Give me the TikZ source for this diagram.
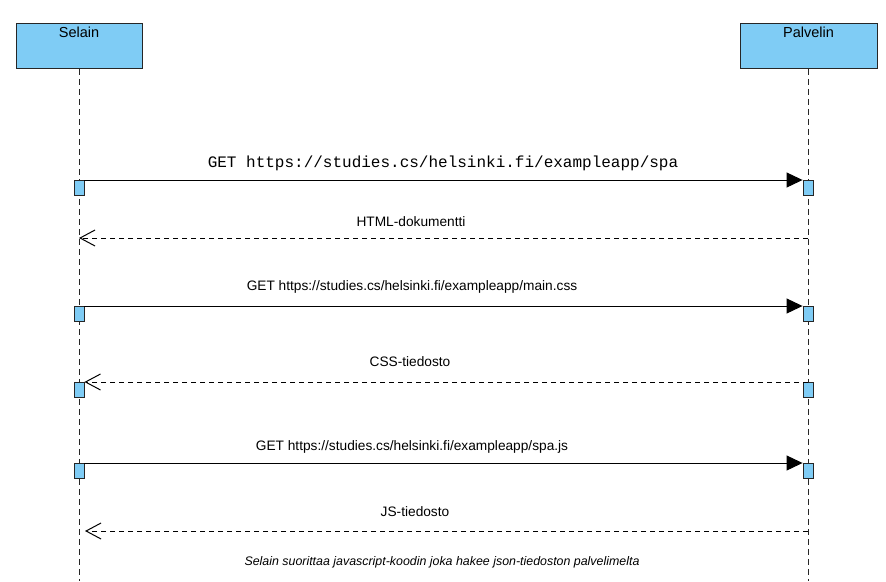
\documentclass[tikz,border=0pt]{standalone}
\usepackage{fontspec}
\setmainfont{Liberation Sans}
\newfontfamily\urlfont{Liberation Mono}
\usetikzlibrary{arrows.meta}
\definecolor{actorblue}{RGB}{127,204,245}
\tikzstyle{actor} = [draw=black!85, fill=actorblue, minimum width=126pt, minimum height=45pt, inner sep=0pt, anchor=north, line width=0.9pt]
\tikzstyle{act} = [draw=black!85, fill=actorblue, minimum width=10pt, minimum height=15pt, inner sep=0pt, anchor=north, line width=0.9pt]
\tikzstyle{lifeline} = [draw=black!85, line width=1pt, dash pattern=on 6pt off 4pt]
\tikzstyle{call} = [draw, line width=1pt, -{Triangle[length=16pt, width=15pt]}]
\tikzstyle{reply} = [draw, line width=1pt, dash pattern=on 5pt off 4pt, -{Straight Barb[length=15pt, width=16pt, line width=1pt]}]
\tikzstyle{msglabel} = [font=\fontsize{13.7}{15}\selectfont, inner sep=0pt]

\begin{document}
\begin{tikzpicture}[x=1pt, y=-1pt]
        \useasboundingbox (0,0) rectangle (886,581);

        % osapuolet
        \node[actor, label={[anchor=north, inner sep=4pt, font=\fontsize{14.5}{16}\selectfont]north:Selain}] (selain) at (79,23) {};
        \node[actor, minimum width=137pt, label={[anchor=north, inner sep=4pt, font=\fontsize{14.5}{16}\selectfont]north:Palvelin}] (palvelin) at (808.5,23) {};
        \coordinate (selainend) at (79,581);
        \coordinate (palvelinend) at (808,581);
        \draw[lifeline] (selain.south) -- (selainend);
        \draw[lifeline] (palvelin.south -| palvelinend) -- (palvelinend);

        % aktivaatiot
        \node[act] (s1) at (79,180) {};
        \node[act] (p1) at (808,180) {};
        \node[act] (s3) at (79,306) {};
        \node[act] (p3) at (808,306) {};
        \node[act] (s4) at (79,382) {};
        \node[act] (p4) at (808,382) {};
        \node[act] (s5) at (79,463) {};
        \node[act] (p5) at (808,463) {};
        \coordinate (p2) at (808,238);
        \coordinate (s2) at (79,238);
        \coordinate (p6) at (808,531);
        \coordinate (s6) at (85,531);

        % viestit
        \path[call] (s1.north east) -- (p1.north west);
        \node[inner sep=0pt, font=\urlfont\fontsize{16}{18}\selectfont] (m1) at (443,163) {GET https://studies.cs/helsinki.fi/exampleapp/spa};

        \path[reply] (p2) -- (s2);
        \node[msglabel] (m2) at (411,222) {HTML-dokumentti};

        \path[call] (s3.north east) -- (p3.north west);
        \node[msglabel] (m3) at (412,287) {GET https://studies.cs/helsinki.fi/exampleapp/main.css};

        \path[reply] (p4.north) -- (s4.north east);
        \node[msglabel] (m4) at (410,362) {CSS-tiedosto};

        \path[call] (s5.north east) -- (p5.north west);
        \node[msglabel] (m5) at (412,447) {GET https://studies.cs/helsinki.fi/exampleapp/spa.js};

        \path[reply] (p6) -- (s6);
        \node[msglabel] (m6) at (415,512) {JS-tiedosto};

        \node[inner sep=0pt, font=\itshape\fontsize{12.4}{14}\selectfont] (note) at (442,562) {Selain suorittaa javascript-koodin joka hakee json-tiedoston palvelimelta};
    \end{tikzpicture}
\end{document}
